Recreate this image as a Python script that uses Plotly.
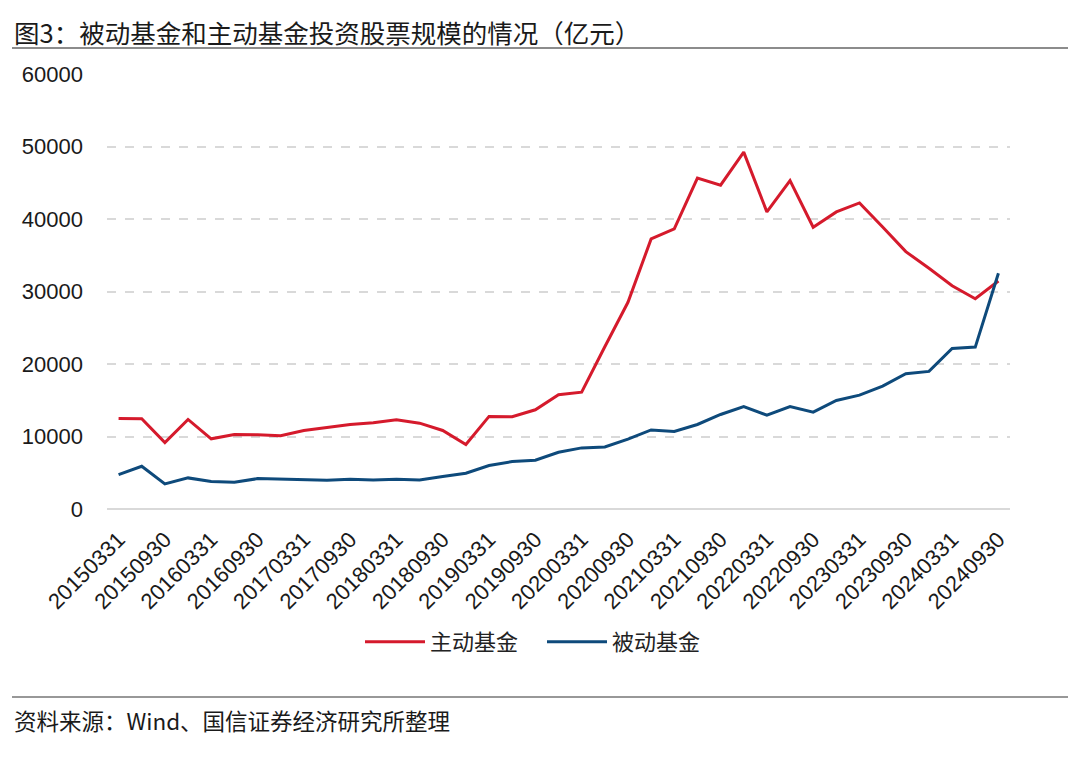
import plotly.graph_objects as go

dates = [
    "20150331", "20150630", "20150930", "20151231",
    "20160331", "20160630", "20160930", "20161231",
    "20170331", "20170630", "20170930", "20171231",
    "20180331", "20180630", "20180930", "20181231",
    "20190331", "20190630", "20190930", "20191231",
    "20200331", "20200630", "20200930", "20201231",
    "20210331", "20210630", "20210930", "20211231",
    "20220331", "20220630", "20220930", "20221231",
    "20230331", "20230630", "20230930", "20231231",
    "20240331", "20240630", "20240930",
]
active = [
    12490, 12450, 9170, 12350,
    9680, 10280, 10250, 10100,
    10830, 11250, 11660, 11890,
    12310, 11840, 10830, 8890,
    12770, 12730, 13690, 15750,
    16120, 22380, 28510, 37250,
    38630, 45630, 44670, 49220,
    40980, 45300, 38870, 40980,
    42220, 38900, 35500, 33200,
    30800, 29000, 31450,
]
passive = [
    4740, 5890, 3460, 4290,
    3780, 3680, 4190, 4100,
    4100, 3960, 4090, 4010,
    4100, 4010, 4470, 4930,
    5990, 6540, 6720, 7830,
    8430, 8560, 9630, 10910,
    10690, 11660, 13040, 14140,
    12940, 14140, 13360, 14970,
    15700, 16950, 18650, 18980,
    22150, 22330, 32510,
]
tick_labels = [d for d in dates if d.endswith("0331") or d.endswith("0930")]
y_ticks = [0, 10000, 20000, 30000, 40000, 50000, 60000]

title_text = "图3：被动基金和主动基金投资股票规模的情况（亿元）"
source_text = "资料来源：Wind、国信证券经济研究所整理"

RED = "#d51a2c"
BLUE = "#0e4a7b"
NUM_FONT = "Arial, Liberation Sans, sans-serif"
CJK_FONT = "Noto Sans CJK SC, sans-serif"

fig = go.Figure()
fig.add_trace(go.Scatter(x=dates, y=active, mode="lines", name="主动基金",
                         line=dict(color=RED, width=3)))
fig.add_trace(go.Scatter(x=dates, y=passive, mode="lines", name="被动基金",
                         line=dict(color=BLUE, width=3)))

OFF = 8  # page body margin compensation
W, H = 1080, 763
L, T = 107 - OFF, 74 - OFF
R = W - (1010 - OFF)
B = H - (509 - OFF)
ph = H - T - B
pw = W - L - R

def px_x(x):
    return (x - OFF - L) / pw

def px_y(y):
    return (H - B - (y - OFF)) / ph

fig.update_layout(
    width=W, height=H,
    margin=dict(l=L, r=R, t=T, b=B, pad=0),
    paper_bgcolor="white", plot_bgcolor="white",
    font=dict(family=NUM_FONT, size=22, color="#1a1a1a"),
    showlegend=True,
    legend=dict(orientation="h", x=px_x(360), xanchor="left",
                y=px_y(642), yanchor="middle",
                font=dict(family=CJK_FONT, size=22, color="#222"),
                itemwidth=60, entrywidth=107, entrywidthmode="pixels",
                traceorder="normal", bgcolor="rgba(0,0,0,0)"),
)
fig.update_xaxes(
    type="category", categoryorder="array", categoryarray=dates,
    range=[-0.5, len(dates) - 0.5],
    tickmode="array", tickvals=tick_labels, ticktext=tick_labels,
    tickangle=-45, tickfont=dict(family=NUM_FONT, size=22, color="#1a1a1a"),
    showgrid=False, showline=False, zeroline=False,
    ticks="outside", ticklen=8, tickcolor="rgba(0,0,0,0)",
)
fig.update_yaxes(
    range=[0, 60000], tickmode="array", tickvals=y_ticks,
    ticktext=[str(v) for v in y_ticks],
    tickfont=dict(family=NUM_FONT, size=22, color="#1a1a1a"),
    showgrid=True, gridcolor="#d9d9d9", gridwidth=2, griddash="dash",
    zeroline=True, zerolinecolor="#d9d9d9", zerolinewidth=2,
    showline=False, ticks="", ticklabelstandoff=23,
)

fig.add_annotation(text=title_text, xref="paper", yref="paper",
                   x=px_x(12), y=px_y(31), xanchor="left", yanchor="middle",
                   showarrow=False,
                   font=dict(family=CJK_FONT, size=25.5, color="#1a1a1a"))
fig.add_annotation(text=source_text, xref="paper", yref="paper",
                   x=px_x(12), y=px_y(720), xanchor="left", yanchor="middle",
                   showarrow=False,
                   font=dict(family=CJK_FONT, size=22.5, color="#1a1a1a"))
fig.add_shape(type="line", xref="paper", yref="paper",
              x0=px_x(12), x1=px_x(1068), y0=px_y(48), y1=px_y(48),
              line=dict(color="#8c8c8c", width=2))
fig.add_shape(type="line", xref="paper", yref="paper",
              x0=px_x(12), x1=px_x(1068), y0=px_y(697), y1=px_y(697),
              line=dict(color="#333333", width=1.2))

fig.write_html("out.html")
